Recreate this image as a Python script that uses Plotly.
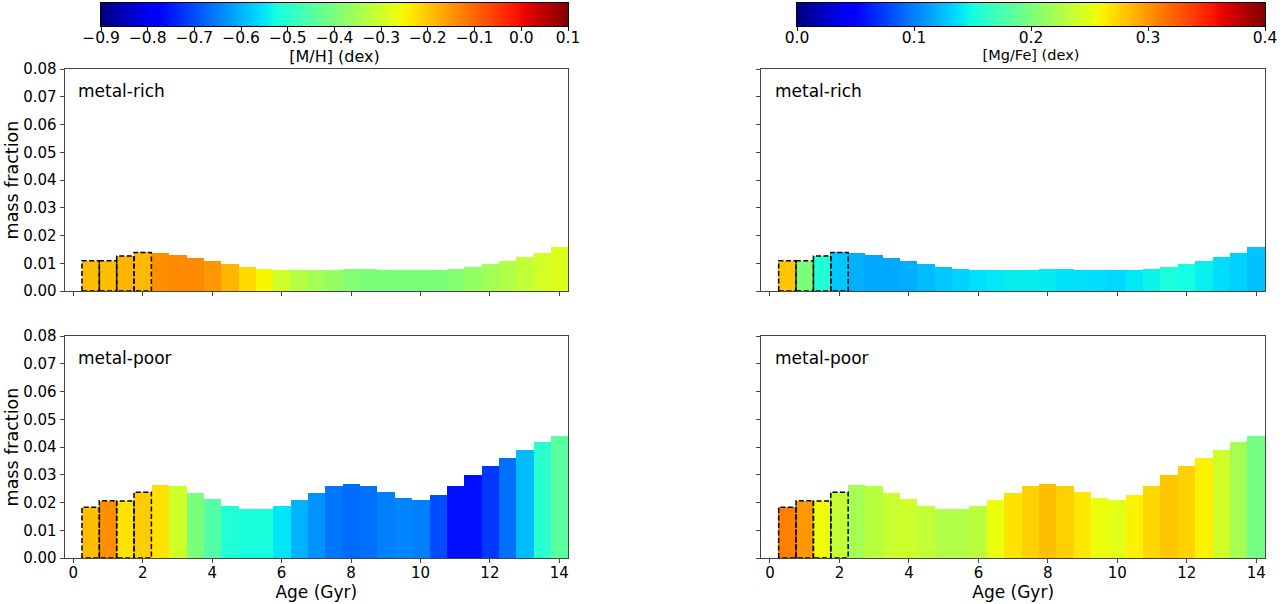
import numpy as np
import plotly.graph_objects as go

# ---------------- data ----------------
AGE = [0.5, 1.0, 1.5, 2.0, 2.5, 3.0, 3.5, 4.0, 4.5, 5.0, 5.5, 6.0, 6.5, 7.0,
       7.5, 8.0, 8.5, 9.0, 9.5, 10.0, 10.5, 11.0, 11.5, 12.0, 12.5, 13.0, 13.5, 14.0]
BIN_WIDTH = 0.5

MF_RICH = [0.0109, 0.0109, 0.0126, 0.0139, 0.0137, 0.0131, 0.0120, 0.0107, 0.0097, 0.0088,
           0.0080, 0.0077, 0.0076, 0.0076, 0.0077, 0.0078, 0.0078, 0.0077, 0.0077, 0.0076,
           0.0077, 0.0080, 0.0088, 0.0096, 0.0107, 0.0121, 0.0138, 0.0159]
MF_POOR = [0.0183, 0.0206, 0.0205, 0.0237, 0.0263, 0.0259, 0.0236, 0.0212, 0.0189, 0.0177,
           0.0175, 0.0186, 0.0208, 0.0235, 0.0259, 0.0267, 0.0259, 0.0237, 0.0217, 0.0210,
           0.0226, 0.0260, 0.0298, 0.0332, 0.0362, 0.0388, 0.0417, 0.0440]

MH_RICH = [-0.19, -0.19, -0.18, -0.185, -0.14, -0.135, -0.135, -0.15, -0.18, -0.22,
           -0.25, -0.30, -0.33, -0.355, -0.37, -0.39, -0.40, -0.40, -0.40, -0.40,
           -0.40, -0.39, -0.37, -0.355, -0.335, -0.315, -0.295, -0.28]
MH_POOR = [-0.19, -0.14, -0.23, -0.206, -0.23, -0.30, -0.40, -0.45, -0.51, -0.52,
           -0.52, -0.55, -0.60, -0.63, -0.66, -0.67, -0.665, -0.65, -0.645, -0.65,
           -0.70, -0.76, -0.76, -0.72, -0.665, -0.59, -0.50, -0.44]

MGFE_RICH = [0.28, 0.20, 0.156, 0.128, 0.119, 0.116, 0.116, 0.119, 0.124, 0.128,
             0.133, 0.138, 0.141, 0.143, 0.143, 0.142, 0.139, 0.138, 0.137, 0.135,
             0.141, 0.146, 0.153, 0.150, 0.144, 0.137, 0.132, 0.126]
MGFE_POOR = [0.31, 0.30, 0.256, 0.235, 0.22, 0.23, 0.237, 0.24, 0.234, 0.226,
             0.226, 0.23, 0.253, 0.268, 0.276, 0.283, 0.276, 0.266, 0.255, 0.25,
             0.262, 0.273, 0.28, 0.275, 0.262, 0.24, 0.22, 0.197]

N_DASHED = 4
PANEL_LABELS = ["metal-rich", "metal-poor"]
MH_TICKS = [-0.9, -0.8, -0.7, -0.6, -0.5, -0.4, -0.3, -0.2, -0.1, 0.0, 0.1]
MGFE_TICKS = [0.0, 0.1, 0.2, 0.3, 0.4]
AGE_TICKS = [0, 2, 4, 6, 8, 10, 12, 14]
MF_TICKS = [0.00, 0.01, 0.02, 0.03, 0.04, 0.05, 0.06, 0.07, 0.08]

# ---------------- matplotlib "jet" colorscale ----------------
_JET = {
    "r": [(0, 0), (0.35, 0), (0.66, 1), (0.89, 1), (1, 0.5)],
    "g": [(0, 0), (0.125, 0), (0.375, 1), (0.64, 1), (0.91, 0), (1, 0)],
    "b": [(0, 0.5), (0.11, 1), (0.34, 1), (0.65, 0), (1, 0)],
}


def _jet(t):
    out = []
    for ch in "rgb":
        xs, ys = zip(*_JET[ch])
        out.append(int(round(255 * np.interp(t, xs, ys))))
    return "rgb(%d,%d,%d)" % tuple(out)


JET = [[t, _jet(t)] for t in np.linspace(0, 1, 129)]

# ---------------- layout helpers ----------------
W, H = 1288, 604
FONT = "DejaVu Sans"


def fx(px):
    return px / W


def fy(py):
    return 1 - py / H


X_DOMAINS = [[fx(64.6), fx(568.0)], [fx(761.3), fx(1265.0)]]
Y_DOMAINS = [[fy(291), fy(69)], [fy(558), fy(336)]]
CB_X_DOMAINS = [[fx(101), fx(568)], [fx(797), fx(1265)]]
CB_Y_DOMAIN = [fy(26), fy(3)]

fig = go.Figure()

panels = [
    (0, 0, MF_RICH, MH_RICH, "coloraxis"),
    (0, 1, MF_RICH, MGFE_RICH, "coloraxis2"),
    (1, 0, MF_POOR, MH_POOR, "coloraxis"),
    (1, 1, MF_POOR, MGFE_POOR, "coloraxis2"),
]

axis_common = dict(
    showline=True, mirror=True, linecolor="#444444", linewidth=1,
    ticks="outside", ticklen=4, tickcolor="#444444",
    showgrid=False, zeroline=False,
    tickfont=dict(family=FONT, size=15, color="black"),
)

annotations = []
for k, (row, col, mf, cval, cax) in enumerate(panels):
    n = k + 1
    xa = "x" if n == 1 else "x%d" % n
    ya = "y" if n == 1 else "y%d" % n
    fig.add_trace(go.Bar(
        x=AGE, y=mf, width=BIN_WIDTH,
        marker=dict(color=cval, coloraxis=cax, line=dict(width=0)),
        xaxis=xa, yaxis=ya, showlegend=False, hoverinfo="x+y",
    ))
    # dashed outlines of the youngest bins
    lx, ly = [], []
    for i in range(N_DASHED):
        x0 = AGE[i] - BIN_WIDTH / 2
        x1 = AGE[i] + BIN_WIDTH / 2
        lx += [x0, x0, x1, x1, x0, None]
        ly += [0, mf[i], mf[i], 0, 0, None]
    fig.add_trace(go.Scatter(
        x=lx, y=ly, mode="lines",
        line=dict(color="black", width=1.5, dash="5px,2.5px"),
        xaxis=xa, yaxis=ya, showlegend=False, hoverinfo="skip",
        cliponaxis=False,
    ))
    xkey = "xaxis" if n == 1 else "xaxis%d" % n
    ykey = "yaxis" if n == 1 else "yaxis%d" % n
    fig.layout[xkey] = dict(
        axis_common, domain=X_DOMAINS[col], anchor=ya,
        range=[-0.25, 14.25], tickvals=AGE_TICKS,
        showticklabels=(row == 1), ticklabelstandoff=-3,
        title=dict(text="Age (Gyr)" if row == 1 else "",
                   font=dict(family=FONT, size=17, color="black"), standoff=0),
    )
    fig.layout[ykey] = dict(
        axis_common, domain=Y_DOMAINS[row], anchor=xa,
        range=[0, 0.08], tickvals=MF_TICKS, tickformat=".2f",
        showticklabels=(col == 0),
        title=dict(text="mass fraction" if col == 0 else "",
                   font=dict(family=FONT, size=17.5, color="black"), standoff=0),
    )
    annotations.append(dict(
        text=PANEL_LABELS[row], xref=xa + " domain", yref=ya + " domain",
        x=0.023, y=0.9, xanchor="left", yanchor="middle", showarrow=False,
        font=dict(family=FONT, size=17, color="black"),
    ))

# ---------------- colour bars (drawn from the same colour axes) ----------------
cbars = [
    (5, "coloraxis", MH_TICKS, "[M/H] (dex)", 16, 0),
    (6, "coloraxis2", MGFE_TICKS, "[Mg/Fe] (dex)", 14.5, 1),
]
for n, cax, ticks, title, tsize, col in cbars:
    lo, hi = ticks[0], ticks[-1]
    edges = np.linspace(lo, hi, 257)
    centers = (edges[:-1] + edges[1:]) / 2
    fig.add_trace(go.Heatmap(
        z=[centers], x=edges, y=[0, 1], coloraxis=cax,
        xaxis="x%d" % n, yaxis="y%d" % n, hoverinfo="skip",
    ))
    fig.layout["xaxis%d" % n] = dict(
        domain=CB_X_DOMAINS[col], anchor="y%d" % n, range=[lo, hi],
        tickvals=ticks, tickformat=".1f", ticks="outside", ticklen=3.5,
        tickcolor="black", showline=True, mirror=True, linecolor="black",
        linewidth=1, showgrid=False, zeroline=False, ticklabelstandoff=-6,
        tickfont=dict(family=FONT, size=15.5, color="black"),
        title=dict(text=title, font=dict(family=FONT, size=tsize, color="black"),
                   standoff=0),
    )
    fig.layout["yaxis%d" % n] = dict(
        domain=CB_Y_DOMAIN, anchor="x%d" % n, range=[0, 1],
        showticklabels=False, ticks="", showline=True, mirror=True,
        linecolor="black", linewidth=1, showgrid=False, zeroline=False,
    )

fig.update_layout(
    width=W, height=H,
    margin=dict(l=0, r=0, t=0, b=0, autoexpand=False),
    paper_bgcolor="white", plot_bgcolor="white",
    bargap=0,
    font=dict(family=FONT, color="black"),
    coloraxis=dict(colorscale=JET, cmin=MH_TICKS[0], cmax=MH_TICKS[-1], showscale=False),
    coloraxis2=dict(colorscale=JET, cmin=MGFE_TICKS[0], cmax=MGFE_TICKS[-1], showscale=False),
    annotations=annotations,
)

fig.write_html("out.html", config={"displayModeBar": False},
               post_script="document.body.style.margin='0';")
